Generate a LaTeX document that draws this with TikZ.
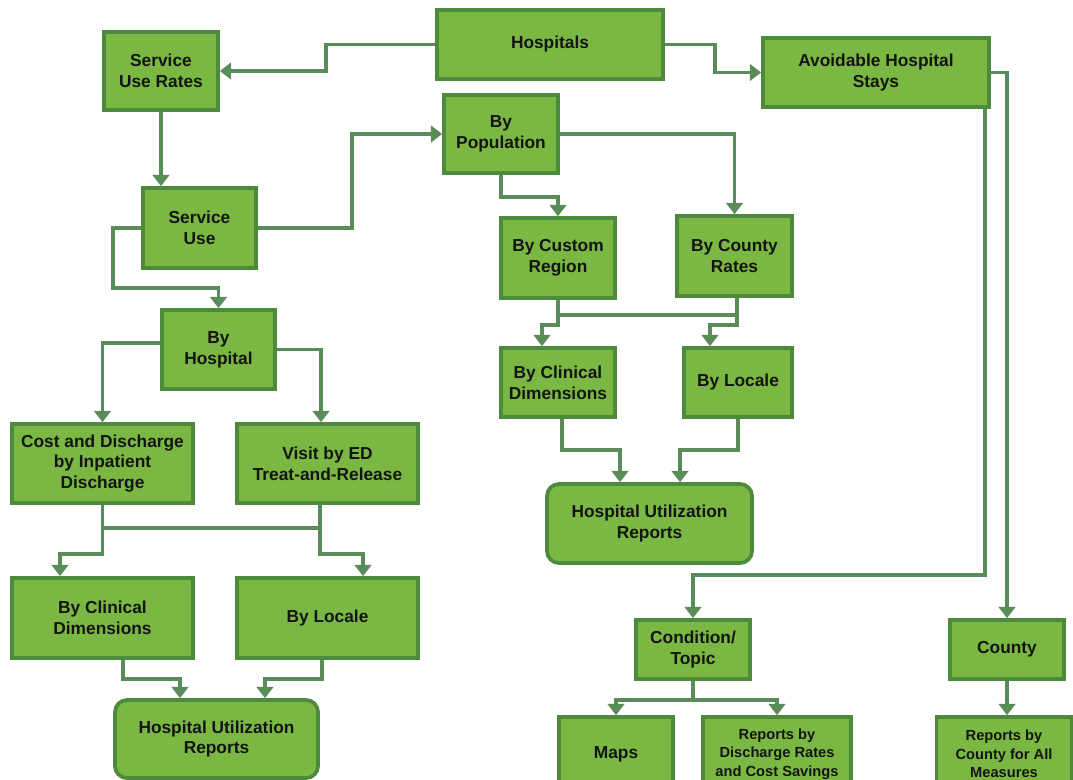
\documentclass[tikz,border=0pt]{standalone}
\usepackage{fontspec}
\setmainfont{Liberation Sans}
\usetikzlibrary{arrows.meta,calc}
\definecolor{boxgreen}{HTML}{7BB843}
\definecolor{bordergreen}{HTML}{4E8A3C}
\definecolor{linegreen}{HTML}{5A8C5A}
\definecolor{textc}{HTML}{141414}
\tikzset{
  box/.style={draw=bordergreen, fill=boxgreen, line width=2.8pt, inner sep=0pt,
    align=center, text=textc, font=\bfseries\fontsize{13}{15.5}\selectfont},
  sz/.style 2 args={minimum width=#1, minimum height=#2},
  rbox/.style={box, rounded corners=9pt},
  smalltxt/.style={font=\bfseries\fontsize{11}{14}\selectfont},
  line/.style={draw=linegreen, line width=2.6pt},
  conn/.style={line, -{Triangle[length=8.5pt,width=12.5pt]}},
}
\begin{document}
\begin{tikzpicture}[x=0.75pt,y=-0.75pt]
\fill[white] (0,0) rectangle (1073,779);
\useasboundingbox (0,0) rectangle (1073,779);

% nodes
\node[box, sz={85.5pt}{58.5pt}]   (sur)    at (161,71)    {Service\\Use Rates};
\node[box, sz={169.5pt}{51.75pt}] (hosp)   at (550,44.5)  {Hospitals};
\node[box, sz={169.5pt}{51.75pt}] (avoid)  at (876,72.5)  {Avoidable Hospital\\Stays};
\node[box, sz={85.5pt}{58.5pt}]   (bypop)  at (501,134)   {By\\Population};
\node[box, sz={84.75pt}{60pt}]    (su)     at (199.5,228) {Service\\Use};
\node[box, sz={85.5pt}{60pt}]     (bcr)    at (558,258)   {By Custom\\Region};
\node[box, sz={86.25pt}{60pt}]    (bcty)   at (734.5,256) {By County\\Rates};
\node[box, sz={84.75pt}{59.25pt}] (bh)     at (218.5,349.5) {By\\Hospital};
\node[box, sz={85.5pt}{51.75pt}]  (mcd)    at (558,382.5) {By Clinical\\Dimensions};
\node[box, sz={81pt}{51.75pt}]    (mloc)   at (738,382.5) {By Locale};
\node[box, sz={135.75pt}{59.25pt}] (cost)  at (102.5,463.5) {Cost and Discharge\\by Inpatient\\Discharge};
\node[box, sz={135.75pt}{59.25pt}] (visit) at (327.5,463.5) {Visit by ED\\Treat-and-Release};
\node[rbox, sz={153.75pt}{59.25pt}] (mhur) at (649.5,523.5) {Hospital Utilization\\Reports};
\node[box, sz={135.75pt}{60pt}]   (lcd)    at (102.5,618) {By Clinical\\Dimensions};
\node[box, sz={135.75pt}{60pt}]   (lloc)   at (327.5,618) {By Locale};
\node[rbox, sz={152.25pt}{58.5pt}] (lhur)  at (216.5,739) {Hospital Utilization\\Reports};
\node[box, sz={85.5pt}{44.25pt}]  (cond)   at (693,649.5) {Condition/\\Topic};
\node[box, sz={85.5pt}{44.25pt}]  (county) at (1007,649.5) {County};
\node[box, sz={85.5pt}{55.5pt}]   (maps)   at (616,754)   {Maps};
\node[box, smalltxt, sz={111pt}{55.5pt}] (rdr) at (777,754) {Reports by\\Discharge Rates\\and Cost Savings};
\node[box, smalltxt, sz={101.25pt}{55.5pt}] (rcty) at (1004,754) {Reports by\\County for All\\Measures};

% connectors
\draw[conn] (hosp.west) -- ++(-109,0) |- (sur.east);
\draw[conn] (hosp.east) -- ++(50,0) |- (avoid.west);
\draw[conn] (sur.south) -- (sur.south |- su.north);
\draw[conn] (su.east) -- ++(94,0) |- (bypop.west);
\draw[conn] (su.west) -- ++(-28,0) -- ++(0,60) -| (bh.north);
\draw[conn] (bypop.south) -- ++(0,22) -| (bcr.north);
\draw[conn] (bypop.east) -| (bcty.north);
\draw[conn] (bcr.south) -- ++(0,25) -| ($(mcd.north)+(-16,0)$);
\draw[line] ($(bcr.south)+(0,15)$) -- ++(179,0);
\draw[conn] ($(bcty.south)+(2.5,0)$) -- ++(0,27) -| ($(mloc.north)+(-28,0)$);
\draw[conn] ($(mcd.south)+(4,0)$) -- ++(0,31) -| ($(mhur.north)+(-29.5,0)$);
\draw[conn] (mloc.south) -- ++(0,31) -| ($(mhur.north)+(30.5,0)$);
\draw[conn] ($(bh.west)+(0,-6.5)$) -| (cost.north);
\draw[conn] (bh.east) -| ($(visit.north)+(-6.5,0)$);
\draw[conn] (cost.south) -- ++(0,49) -| ($(lcd.north)+(-42.5,0)$);
\draw[conn] ($(visit.south)+(-7.5,0)$) -- ++(0,49) -| ($(lloc.north)+(35.5,0)$);
\draw[line] ($(cost.south)+(0,23)$) -- ++(217.5,0);
\draw[conn] ($(lcd.south)+(20.5,0)$) -- ++(0,19) -| ($(lhur.north)+(-36.5,0)$);
\draw[conn] ($(lloc.south)+(-5.5,0)$) -- ++(0,19) -| ($(lhur.north)+(48.5,0)$);
\draw[conn] ($(avoid.south)+(109,0)$) -- ++(0,466) -| (cond.north);
\draw[conn] (avoid.east) -| (county.north);
\coordinate (cj) at ($(cond.south)+(0,19)$);
\draw[line] (cond.south) -- (cj);
\draw[conn] (cj) -| (maps.north);
\draw[conn] (cj) -| (rdr.north);
\draw[conn] (county.south) -- (county.south |- rcty.north);
\end{tikzpicture}
\end{document}
